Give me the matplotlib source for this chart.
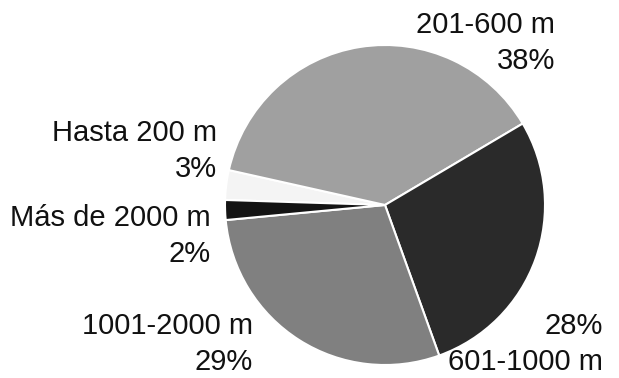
import matplotlib.pyplot as plt

# datos del gráfico (orden en sentido horario)
labels = ["Hasta 200 m", "201-600 m", "601-1000 m", "1001-2000 m", "Más de 2000 m"]
values = [3, 38, 28, 29, 2]
colors = ["#f4f4f4", "#a0a0a0", "#2a2a2a", "#808080", "#141414"]

plt.rcParams['font.family'] = ['Liberation Sans', 'DejaVu Sans']

fig = plt.figure(figsize=(6.19, 3.78), dpi=100)
W, H = 619, 378
cx, cy, r = 385, 205, 160
ax = fig.add_axes([(cx - r) / W, (H - cy - r) / H, 2 * r / W, 2 * r / H])
ax.pie(values, colors=colors, startangle=178.2, counterclock=False,
       wedgeprops=dict(edgecolor="white", linewidth=1.5))
ax.set_aspect("equal")
ax.set_xlim(-1, 1)
ax.set_ylim(-1, 1)
ax.axis("off")

# etiquetas: (x derecha, y del texto, texto)
pct = [f"{v}%" for v in values]
text_pos = [
    (217, 151, f"{labels[0]}\n{pct[0]}"),
    (555, 43, f"{labels[1]}\n{pct[1]}"),
    (603, 344, f"{pct[2]}\n{labels[2]}"),
    (253, 344, f"{labels[3]}\n{pct[3]}"),
    (211, 236, f"{labels[4]}\n{pct[4]}"),
]
for x, y, s in text_pos:
    fig.text(x / W, 1 - y / H, s, ha="right", va="center", fontsize=21,
             linespacing=1.32, color="#111111")

fig.savefig("out.png", dpi=100, facecolor="white")
